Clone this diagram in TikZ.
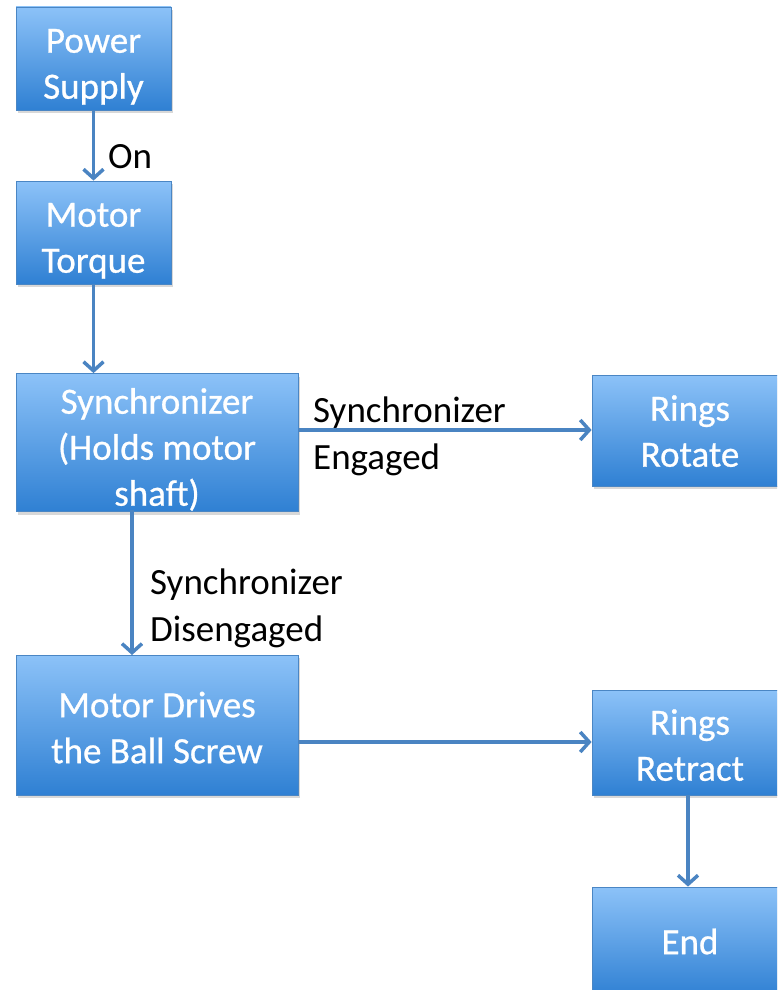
\documentclass[tikz,border=0pt]{standalone}
\usepackage{fontspec}
\setmainfont{Carlito}
\newfontfamily\boxfont[FakeBold=0.7]{Carlito}
\usetikzlibrary{arrows.meta,shadows}
\definecolor{boxtop}{HTML}{8CC2F8}
\definecolor{boxbot}{HTML}{2F80D3}
\definecolor{boxline}{HTML}{4A86C4}
\definecolor{arrowc}{HTML}{4A84C2}
\newcommand{\boxtext}[2][8pt]{\raisebox{-#1}[\height][\depth]{\begin{tabular}{@{}c@{}}#2\end{tabular}}}
\tikzset{
  box/.style={rectangle, draw=boxline, line width=0.8pt, top color=boxtop, bottom color=boxbot,
    text=white, inner sep=0pt,
    font=\boxfont\fontsize{37}{46}\selectfont,
    drop shadow={opacity=0.3, shadow xshift=2pt, shadow yshift=-3pt}},
  lbl/.style={anchor=west, align=left, inner sep=0pt, text=black, font=\fontsize{37}{47}\selectfont},
  conn/.style={draw=arrowc, line width=3.5pt, -{Straight Barb[length=9pt,width=20pt,line width=3.5pt]}}
}
\begin{document}
\begin{tikzpicture}[x=1pt,y=-1pt]
\useasboundingbox (0,0) rectangle (777,990);
\clip (0,0) rectangle (777,990);
\fill[white] (0,0) rectangle (777,990);
\node[box, minimum width=155pt, minimum height=103pt] (ps) at (93.5,58.5) {\boxtext{Power\\Supply}};
\node[box, minimum width=155pt, minimum height=103pt] (mt) at (93.5,232.5) {\boxtext{Motor\\Torque}};
\node[box, minimum width=282pt, minimum height=135pt] (sy) at (157,442.5) {\boxtext{Synchronizer\\(Holds motor\\shaft)}};
\node[box, minimum width=196pt, minimum height=111pt] (rr) at (690,430.5) {\boxtext[4pt]{Rings\\Rotate}};
\node[box, minimum width=282pt, minimum height=140pt] (md) at (157,725) {\boxtext[6pt]{Motor Drives\\the Ball Screw}};
\node[box, minimum width=196pt, minimum height=105pt] (rt) at (690,742.5) {\boxtext[6pt]{Rings\\Retract}};
\node[box, minimum width=196pt, minimum height=110pt] (en) at (690,942) {\boxtext[3pt]{End}};
\coordinate (s1) at (132,510);
\coordinate (s2) at (132,655);
\draw[conn] (ps) -- (mt);
\draw[conn] (mt.south) -- (mt.south |- sy.north);
\draw[conn] (sy.east |- 0,430) -- (rr.west |- 0,430);
\draw[conn] (s1) -- (s2);
\draw[conn] (md.east |- 0,742) -- (rt.west |- 0,742);
\draw[conn] (rt.south -| 688,0) -- (en.north -| 688,0);
\node[lbl] (l1) at (108,157) {On};
\node[lbl] (l2) at (313,436) {Synchronizer\\Engaged};
\node[lbl] (l3) at (150,608) {Synchronizer\\Disengaged};
\end{tikzpicture}
\end{document}
